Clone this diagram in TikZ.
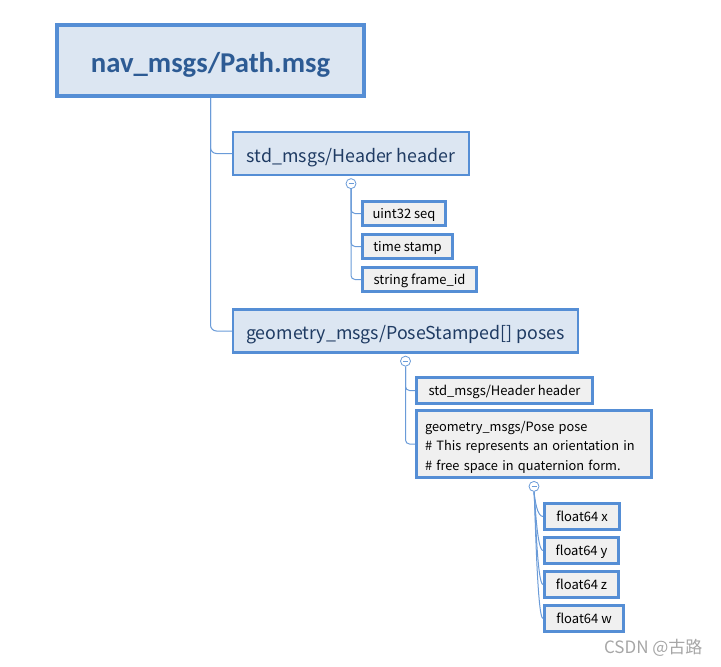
\documentclass[tikz,border=0pt]{standalone}
\usepackage{fontspec}
\setmainfont{Noto Sans CJK SC}
\newfontfamily\rootfont{Carlito}
\usetikzlibrary{positioning}

\definecolor{boxblue}{HTML}{558ED5}
\definecolor{linkblue}{HTML}{6A9BD8}
\definecolor{topicfill}{HTML}{DCE6F2}
\definecolor{fieldfill}{HTML}{F0F0F0}
\definecolor{topictext}{HTML}{1F3B63}
\definecolor{roottext}{HTML}{2D5B94}

\tikzset{
  rootbox/.style={draw=boxblue,line width=4pt,fill=topicfill,text=roottext,inner sep=0pt,
    minimum width=307pt,minimum height=71pt,text height=24.4pt,text depth=0pt,
    font=\rootfont\fontsize{28.7}{32}\selectfont\bfseries},
  topicbox/.style={draw=boxblue,line width=2.5pt,fill=topicfill,text=topictext,inner sep=0pt,
    minimum height=43pt,text height=17.6pt,text depth=0pt,font=\fontsize{17.8}{21}\selectfont},
  fieldbox/.style={draw=boxblue,line width=3pt,fill=fieldfill,text=black,inner sep=0pt,
    minimum height=24pt,text height=10pt,text depth=0pt,font=\fontsize{13}{16}\selectfont},
  toggle/.style={circle,draw=linkblue,fill=white,line width=0.8pt,minimum size=10pt,inner sep=0pt,
    path picture={\draw[linkblue,line width=0.8pt]
      ([xshift=-2.5pt]path picture bounding box.center) -- ([xshift=2.5pt]path picture bounding box.center);}},
  link/.style={draw=linkblue,line width=1pt,rounded corners=6pt},
}

\begin{document}
\begin{tikzpicture}[x=1pt,y=-1pt]
\useasboundingbox (0,0) rectangle (721,667);

% root and its two fields
\node[rootbox] (root) at (210.5,60.5) {nav\_msgs/Path.msg};
\node[topicbox,minimum width=236pt] (hdr) at (351,153.5) {std\_msgs/Header header};
\node[topicbox,minimum width=345pt] (poses) at (405.5,331) {geometry\_msgs/PoseStamped[] poses};
\draw[link] (root.south) |- (hdr.west);
\draw[link] (root.south) |- (poses.west);

% header fields
\node[toggle,below=2pt of hdr] (hdrtog) {};
\node[fieldbox,minimum width=83pt] (seq) at (404,213.5) {uint32 seq};
\node[fieldbox,minimum width=90pt,below=6pt of seq.south west,anchor=north west] (stamp) {time stamp};
\node[fieldbox,minimum width=114pt,below=6pt of stamp.south west,anchor=north west] (frame) {string frame\_id};
\foreach \f in {seq,stamp,frame}
  \draw[link,rounded corners=4pt] (hdrtog.south) |- (\f.west);

% poses fields
\node[toggle,below=2pt of poses] (posestog) {};
\node[fieldbox,minimum width=176pt,minimum height=26pt] (phdr) at (504.5,390.5) {std\_msgs/Header header};
\node[fieldbox,minimum width=235pt,minimum height=67pt,align=left,text width=218pt,
  text height=10pt,text depth=36pt,font=\fontsize{12.8}{19.5}\selectfont] (pose) at (534,444)
  {geometry\_msgs/Pose pose\\\# This represents an orientation in\\\# free space in quaternion form.};
\foreach \f in {phdr,pose}
  \draw[link,rounded corners=4pt] (posestog.south) |- (\f.west);

% quaternion
\node[toggle,below=2pt of pose] (posetog) {};
\node[fieldbox,minimum width=75pt,minimum height=26pt] (fx) at (582,516.5) {float64 x};
\node[fieldbox,minimum width=74pt,minimum height=26pt,below=5pt of fx.south west,anchor=north west] (fy) {float64 y};
\node[fieldbox,minimum width=74pt,minimum height=26pt,below=5pt of fy.south west,anchor=north west] (fz) {float64 z};
\node[fieldbox,minimum width=79pt,minimum height=26pt,below=5pt of fz.south west,anchor=north west] (fw) {float64 w};
\foreach \f in {fx,fy,fz,fw}
  \draw[link] (posetog.south) .. controls +(1,8) and +(-6,0) .. (\f.west);

\node[text=gray!70,font=\fontsize{17}{20}\selectfont,anchor=east] (mark) at (706,648) {CSDN @古路};
\end{tikzpicture}
\end{document}
